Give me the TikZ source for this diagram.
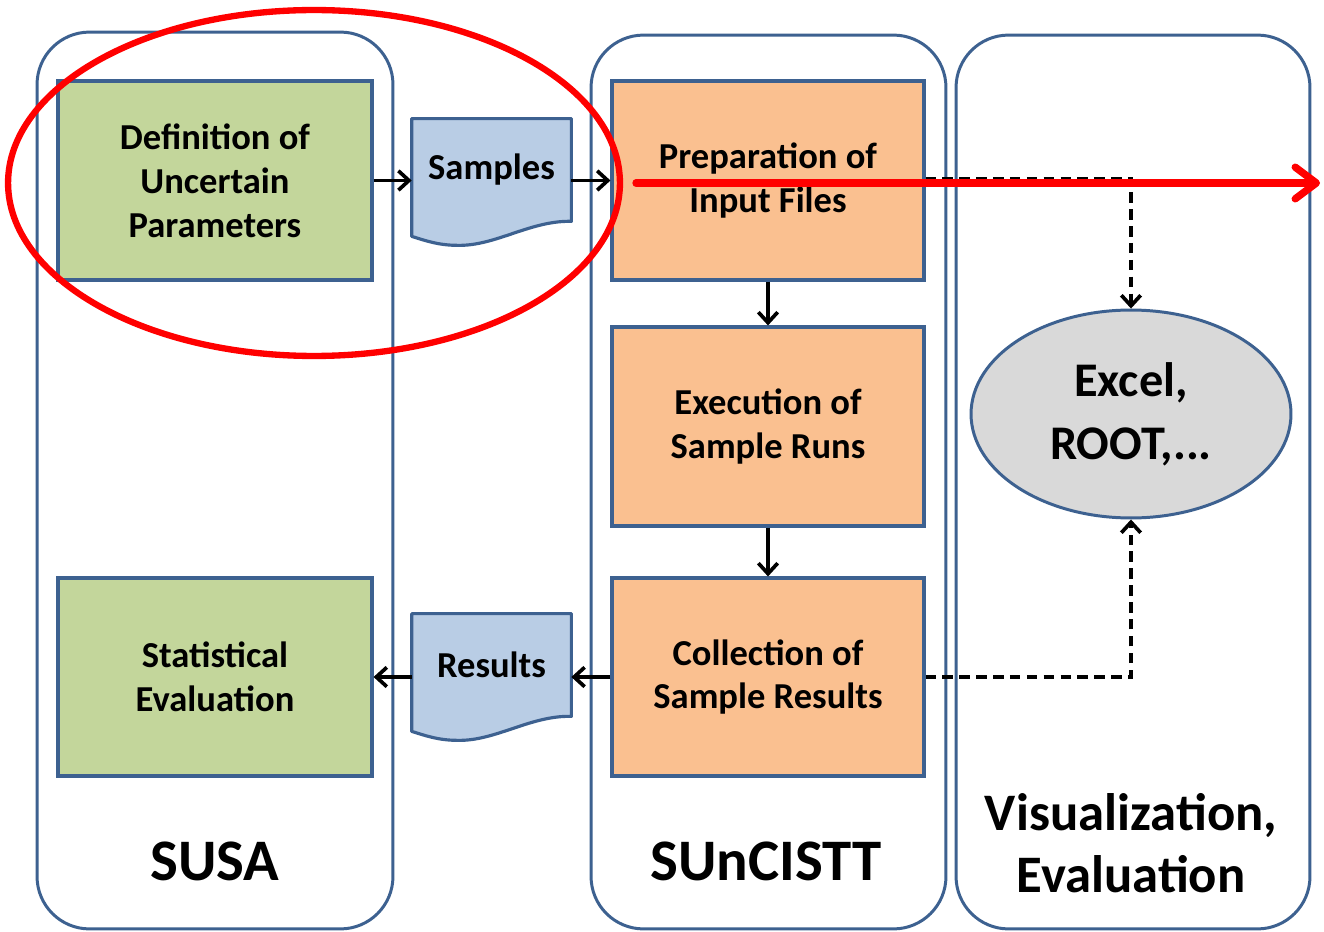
\documentclass[tikz,border=0pt]{standalone}
\usepackage{fontspec}
\setmainfont{Carlito}
\usetikzlibrary{arrows.meta,shapes.geometric}

\definecolor{edgeblue}{HTML}{3D6190}
\definecolor{stepgreen}{HTML}{C3D69B}
\definecolor{steporange}{HTML}{FAC090}
\definecolor{docblue}{HTML}{B9CDE5}
\definecolor{toolgray}{HTML}{D9D9D9}
\definecolor{markred}{HTML}{FF0000}

\pgfdeclarelayer{canvas}
\pgfdeclarelayer{background}
\pgfsetlayers{canvas,background,main}

\tikzset{
  lane/.style={draw=edgeblue, line width=1.7pt, rounded corners=1.05cm, inner sep=0pt},
  lanetitle/.style={font=\fontsize{33.5}{40}\selectfont\bfseries, inner sep=0pt},
  stepbox/.style={draw=edgeblue, line width=1.8pt, inner sep=0pt, align=center,
    font=\fontsize{20.8}{25}\selectfont\bfseries, minimum width=6.24cm, minimum height=3.98cm},
  greenbox/.style={stepbox, fill=stepgreen, minimum width=6.28cm},
  orangebox/.style={stepbox, fill=steporange},
  docnode/.style={inner sep=0pt, minimum width=3.18cm, minimum height=2.04cm,
    font=\fontsize{20.8}{25}\selectfont\bfseries},
  docline/.style={draw=edgeblue, fill=docblue, line width=1.8pt, line join=round},
  toolnode/.style={ellipse, draw=edgeblue, fill=toolgray, line width=1.7pt, inner sep=0pt,
    minimum width=6.4cm, minimum height=4.16cm, align=center,
    font=\fontsize{27.5}{35.8}\selectfont\bfseries},
  flow/.style={line width=2.1pt, -{Straight Barb[length=6pt,width=11pt]}},
  dataflow/.style={flow, dash pattern=on 6pt off 3.6pt},
  marker/.style={draw=markred, line width=3.6pt},
  markarrow/.style={draw=markred, line width=4.2pt, line cap=round,
    -{Straight Barb[length=12pt,width=18pt,round]}}
}

\begin{document}
\begin{tikzpicture}[x=0.02cm, y=-0.02cm]
  \useasboundingbox (0,0) rectangle (1324,932);
  \begin{pgfonlayer}{canvas}
    \fill[white] (0,0) rectangle (1324,932);
  \end{pgfonlayer}

  % three lanes
  \node[lane, minimum width=7.12cm, minimum height=17.94cm] (susalane) at (215,480.5) {};
  \node[lane, minimum width=7.10cm, minimum height=17.88cm] (sunlane) at (768.5,482) {};
  \node[lane, minimum width=7.08cm, minimum height=17.88cm] (vislane) at (1133,482) {};

  \node[lanetitle, anchor=base] (susatitle) at (215,880) {SUSA};
  \node[lanetitle, anchor=base] (suntitle) at (766,880) {SUnCISTT};
  \node[inner sep=0pt, align=center, font=\fontsize{30}{35.3}\selectfont\bfseries]
    (vistitle) at (1131,843) {Visualization,\\Evaluation};

  % process steps
  \node[greenbox] (def) at (215,180.5) {Definition of\\Uncertain\\Parameters};
  \node[greenbox, minimum height=3.96cm] (stat) at (215,677) {Statistical\\Evaluation};
  \node[orangebox] (prep) at (768,180.5) {Preparation of\\Input Files};
  \node[orangebox] (exec) at (768,426.5) {Execution of\\Sample Runs};
  \node[orangebox, minimum height=3.96cm] (coll) at (768,677) {Collection of\\Sample Results};

  % documents
  \node[docnode] (samples) at (491.5,170) {Samples};
  \node[docnode] (results) at (491.5,665) {Results};
  \begin{pgfonlayer}{background}
    \foreach \d in {samples,results}{
      \draw[docline] (\d.north west) -- (\d.north east) -- (\d.south east)
        .. controls ([shift={(-41,-1)}]\d.south east) and ([shift={(-76,25)}]\d.south east)
        .. ([shift={(-114,24)}]\d.south east)
        .. controls ([shift={(-133,24)}]\d.south east) and ([shift={(-147,19)}]\d.south east)
        .. ([shift={(0,15)}]\d.south west) -- cycle;
    }
  \end{pgfonlayer}

  % tools
  \node[toolnode] (tools) at (1131,414) {Excel,\\ROOT,...};

  % solid flow
  \draw[flow] (def.east) -- (def.east -| samples.west);
  \draw[flow] (samples.east |- prep.west) -- (prep.west);
  \draw[flow] (prep.south) -- (exec.north);
  \draw[flow] (exec.south) -- (coll.north);
  \draw[flow] (coll.west) -- (coll.west -| results.east);
  \draw[flow] (results.west |- stat.east) -- (stat.east);

  % dashed data flow
  \draw[dataflow] ([yshift=0.04cm]prep.east) -| (tools.north);
  \draw[dataflow] (coll.east) -| (tools.south);

  % highlight
  \draw[marker] (314,183) ellipse [x radius=6.12cm, y radius=3.46cm];
  \coordinate (markstart) at (636,183);
  \coordinate (markend) at (1320,183);
  \draw[markarrow] (markstart) -- (markend);
\end{tikzpicture}
\end{document}
